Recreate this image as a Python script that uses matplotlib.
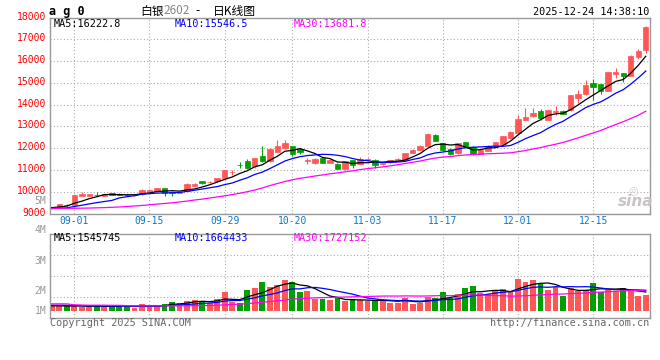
import numpy as np
import pandas as pd
import matplotlib
matplotlib.use('Agg')
import matplotlib.pyplot as plt
from matplotlib.transforms import ScaledTranslation

# daily bars, ag0 silver futures
dates = ['08-27', '08-28', '08-29', '09-01', '09-02', '09-03', '09-04', '09-05', '09-08', '09-09',
         '09-10', '09-11', '09-12', '09-15', '09-16', '09-17', '09-18', '09-19', '09-22', '09-23',
         '09-24', '09-25', '09-26', '09-29', '09-30', '10-09', '10-10', '10-13', '10-14', '10-15',
         '10-16', '10-17', '10-20', '10-21', '10-22', '10-23', '10-24', '10-27', '10-28', '10-29',
         '10-30', '10-31', '11-03', '11-04', '11-05', '11-06', '11-07', '11-10', '11-11', '11-12',
         '11-13', '11-14', '11-17', '11-18', '11-19', '11-20', '11-21', '11-24', '11-25', '11-26',
         '11-27', '11-28', '12-01', '12-02', '12-03', '12-04', '12-05', '12-08', '12-09', '12-10',
         '12-11', '12-12', '12-15', '12-16', '12-17', '12-18', '12-19', '12-22', '12-23', '12-24']
opens = [9240, 9300, 9410, 9390, 9810, 9820, 9870, 9820, 9920, 9910,
         9870, 9840, 9880, 10050, 10040, 10180, 9980, 9940, 10030, 10250,
         10480, 10430, 10470, 10620, 10900, 11230, 11430, 11180, 11630, 11410,
         11840, 11990, 12080, 11970, 11420, 11300, 11550, 11330, 11290, 11030,
         11440, 11290, 11470, 11470, 11290, 11360, 11440, 11440, 11790, 11920,
         12090, 12620, 12240, 11980, 11770, 12280, 12040, 11740, 11870, 12090,
         12210, 12470, 12700, 13300, 13460, 13720, 13310, 13680, 13720, 13740,
         14310, 14500, 14980, 14940, 14640, 15420, 15440, 15330, 16170, 16520]
highs = [9320, 9440, 9430, 9860, 9990, 9910, 9990, 9900, 9950, 9930,
         9900, 9870, 10110, 10110, 10190, 10190, 10020, 10040, 10380, 10390,
         10500, 10480, 10650, 11000, 11020, 11370, 11480, 11570, 12120, 12000,
         12360, 12390, 12100, 12010, 11555, 11560, 11570, 11490, 11310, 11410,
         11460, 11580, 11560, 11490, 11340, 11470, 11540, 11800, 11960, 12150,
         12680, 12640, 12260, 12010, 12260, 12300, 12080, 11960, 12150, 12300,
         12580, 12800, 13530, 13840, 13840, 13780, 13750, 13920, 13740, 14450,
         14680, 15110, 15180, 14960, 15510, 15700, 15460, 16270, 16560, 17620]
lows = [9200, 9280, 9360, 9370, 9790, 9790, 9790, 9800, 9840, 9840,
        9830, 9820, 9870, 10020, 10030, 9820, 9800, 9920, 10020, 10230,
        10370, 10400, 10450, 10600, 10790, 11100, 11040, 11100, 11380, 11380,
        11830, 11980, 11620, 11710, 11280, 11280, 11320, 11320, 11040, 11000,
        11100, 11270, 11400, 11100, 11240, 11340, 11420, 11420, 11780, 11900,
        12080, 12330, 11890, 11690, 11750, 12010, 11700, 11730, 11850, 12070,
        12190, 12440, 12680, 13280, 13440, 13300, 13280, 13540, 13560, 13700,
        14070, 14450, 14230, 14480, 14620, 15210, 15060, 15300, 16080, 16360]
closes = [9290, 9420, 9380, 9840, 9900, 9880, 9850, 9880, 9860, 9860,
          9850, 9850, 10100, 10070, 10170, 9960, 9930, 10010, 10360, 10370,
          10400, 10450, 10630, 10980, 10920, 11210, 11070, 11550, 11420, 11980,
          12110, 12230, 11750, 11840, 11440, 11520, 11330, 11470, 11060, 11390,
          11230, 11500, 11480, 11230, 11310, 11440, 11520, 11780, 11930, 12110,
          12640, 12350, 11910, 11720, 12220, 12050, 11720, 11930, 12120, 12280,
          12540, 12740, 13330, 13450, 13610, 13390, 13730, 13700, 13590, 14420,
          14490, 14900, 14790, 14640, 15480, 15520, 15330, 16230, 16460, 17570]
# volume in millions of lots
volumes = [0.41, 0.41, 0.41, 0.49, 0.30, 0.30, 0.49, 0.30, 0.49, 0.41,
           0.41, 0.22, 0.57, 0.41, 0.41, 0.57, 0.76, 0.68, 0.81, 0.89,
           0.81, 0.62, 0.98, 1.57, 0.76, 0.68, 1.71, 1.90, 2.38, 1.98,
           2.11, 2.52, 2.38, 1.57, 1.65, 0.98, 0.98, 0.89, 1.03, 0.81,
           0.89, 0.89, 0.81, 0.89, 0.89, 0.68, 0.68, 1.08, 0.57, 0.68,
           1.11, 1.08, 1.57, 1.03, 1.38, 1.87, 2.03, 1.49, 1.38, 1.63,
           1.79, 1.57, 2.60, 2.36, 2.52, 2.20, 1.71, 1.98, 1.22, 1.84,
           1.63, 1.71, 2.30, 1.57, 1.71, 1.63, 1.87, 1.71, 1.22, 1.30]

# moving averages at the left edge (window too short to compute them)
ma5_head = [9270, 9300, 9340, 9470]
ma10_head = [9230, 9240, 9260, 9320, 9380, 9440, 9500, 9550, 9600]
ma30_head = [9236, 9236, 9238, 9240, 9245, 9250, 9260, 9270, 9285, 9300,
             9320, 9345, 9370, 9400, 9430, 9460, 9490, 9530, 9570, 9620,
             9660, 9710, 9760, 9810, 9870, 9930, 10000, 10080, 10170]
vol_ma5_head = [0.42, 0.42, 0.41, 0.41]
vol_ma10_head = [0.47, 0.47, 0.46, 0.45, 0.44, 0.43, 0.42, 0.41, 0.40]
vol_ma30_head = [0.58, 0.58, 0.58, 0.50, 0.48, 0.47, 0.47, 0.47, 0.46, 0.46,
                 0.44, 0.43, 0.42, 0.42, 0.42, 0.42, 0.42, 0.42, 0.42, 0.43,
                 0.44, 0.45, 0.47, 0.50, 0.53, 0.56, 0.60, 0.65, 0.70]

label_dates = ['09-01', '09-15', '09-29', '10-20', '11-03', '11-17', '12-01', '12-15']
price_ticks = list(range(9000, 18001, 1000))
vol_tick_text = ['5M', '4M', '3M', '2M', '1M']
ma_price_text = ['MA5:16222.8', 'MA10:15546.5', 'MA30:13681.8']
ma_vol_text = ['MA5:1545745', 'MA10:1664433', 'MA30:1727152']

RED = '#ff5656'
GREEN = '#00a000'
GRID = '#aaaaaa'
FRAME = '#999999'
MA_COLORS = ['black', '#0000ff', '#ff00ff']
MONO = 'DejaVu Sans Mono'
CJK = ['Noto Sans CJK SC', 'DejaVu Sans']

W, H = 660, 360


def fpos(x, y):
    return x / W, 1 - y / H


def moving_avg(values, n, head):
    s = pd.Series(values, dtype=float).rolling(n).mean().values
    s[:n - 1] = head
    return s


x = np.arange(len(dates))
o = np.array(opens); c = np.array(closes)
colors = np.where(c >= o, RED, GREEN)
tick_idx = [dates.index(d) for d in label_dates]

fig = plt.figure(figsize=(W / 100, H / 100), dpi=100)
ax = fig.add_axes([50 / W, 1 - 213.5 / H, 600 / W, 196 / H])
axv = fig.add_axes([50 / W, 1 - 318 / H, 600 / W, 84 / H])

# candles
ax.vlines(x, lows, highs, colors=colors, lw=0.8, zorder=2)
ax.bar(x, np.abs(c - o), 0.72, bottom=np.minimum(o, c), color=colors,
       edgecolor=colors, lw=0.5, zorder=2)
for n, col in zip([5, 10, 30], MA_COLORS):
    head = {5: ma5_head, 10: ma10_head, 30: ma30_head}[n]
    ax.plot(x, moving_avg(closes, n, head), color=col, lw=0.9, zorder=3)

# volume
axv.bar(x, volumes, 0.78, color=colors, zorder=2)
for n, col in zip([5, 10, 30], MA_COLORS):
    head = {5: vol_ma5_head, 10: vol_ma10_head, 30: vol_ma30_head}[n]
    axv.plot(x, moving_avg(volumes, n, head), color=col, lw=0.9, zorder=3)

xlim = (-0.23, 79.56)
for a in (ax, axv):
    a.set_xlim(*xlim)
    a.set_xticks(tick_idx)
    a.tick_params(length=0)
    for sp in a.spines.values():
        sp.set_color(FRAME)
        sp.set_linewidth(1)
    a.grid(True, color=GRID, lw=0.8, linestyle=(0, (1, 2)), zorder=0)
    a.set_axisbelow(True)

ax.set_ylim(9000, 18000)
ax.set_yticks(price_ticks)
ax.set_yticklabels([str(t) for t in price_ticks], color='#ff0000', fontsize=7, family=MONO)
ax.set_xticklabels(label_dates, color='#0a78cc', fontsize=7, family=MONO)
ax.tick_params(axis='y', pad=3)
ax.tick_params(axis='x', pad=2)
# the site prints the price labels a little above their grid lines
lift = ScaledTranslation(0, 2 / 100, fig.dpi_scale_trans)
for lab in ax.get_yticklabels():
    lab.set_transform(lab.get_transform() + lift)

vlo, vhi = -0.57, 6.26
axv.set_ylim(vlo, vhi)
axv.set_yticks([vlo + f * (vhi - vlo) for f in (0.25, 0.5, 0.75)])
axv.set_yticklabels([])
axv.set_xticklabels([])

# volume scale labels as drawn by the site
for t, yy in zip(vol_tick_text, [200.5, 230, 260.5, 290.5, 310.5]):
    fig.text(*fpos(46.5, yy), t, ha='right', va='center', fontsize=7, family=MONO, color='#999999')

# MA value labels
for t, xx, col in zip(ma_price_text, [54, 175, 294], MA_COLORS):
    fig.text(*fpos(xx, 24), t, ha='left', va='center', fontsize=7.3, family=MONO, color=col)
for t, xx, col in zip(ma_vol_text, [54, 175, 294], MA_COLORS):
    fig.text(*fpos(xx, 238), t, ha='left', va='center', fontsize=7.3, family=MONO, color=col)

# header
fig.text(*fpos(49, 11), 'a g 0', ha='left', va='center', fontsize=8.5, family=MONO,
         fontweight='bold', color='black')
fig.text(*fpos(140, 11), '白银', ha='left', va='center', fontsize=8.5, family=CJK, color='black')
fig.text(*fpos(163, 11), '2602', ha='left', va='center', fontsize=8.5, family=CJK, color='#888888')
fig.text(*fpos(195, 11), '-', ha='left', va='center', fontsize=8.5, family=CJK, color='black')
fig.text(*fpos(213, 11), '日K线图', ha='left', va='center', fontsize=8.5, family=CJK, color='black')
fig.text(*fpos(649, 12), '2025-12-24 14:38:10', ha='right', va='center', fontsize=7.3,
         family=MONO, color='black')

# footer
fig.text(*fpos(50, 323), 'Copyright 2025 SINA.COM', ha='left', va='center', fontsize=7.3,
         family=MONO, color='#666666')
fig.text(*fpos(649, 323), 'http://finance.sina.com.cn', ha='right', va='center', fontsize=7.3,
         family=MONO, color='#666666')

# watermark
fig.text(*fpos(633, 190), '◎', ha='center', va='center', fontsize=8, color='#dcc8c8')
fig.text(*fpos(636, 202), 'sina', ha='center', va='center', fontsize=11, fontweight='bold',
         style='italic', color='#cbc3c3')

fig.savefig('out.png', dpi=100)
